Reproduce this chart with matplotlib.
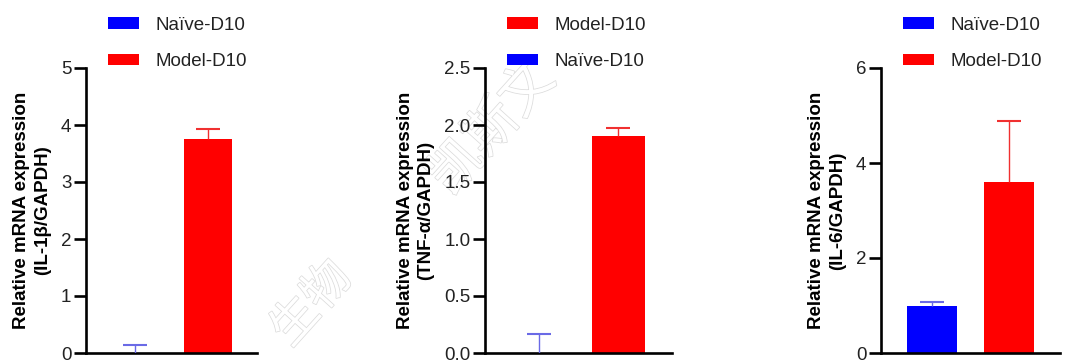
import matplotlib
matplotlib.use("Agg")
import matplotlib.pyplot as plt
import matplotlib.patheffects as pe
from matplotlib.patches import Patch

plt.rcParams['font.family'] = ['Liberation Sans', 'DejaVu Sans']

# ---- data ----
groups = ["Naïve-D10", "Model-D10"]
colors = {"Naïve-D10": "#0000FF", "Model-D10": "#FF0000"}
err_colors = {"Naïve-D10": "#6A6AE6", "Model-D10": "#F03030"}

il1b_means = [0.0, 3.75]
il1b_err = [0.14, 0.18]

tnf_means = [0.0, 1.90]
tnf_err = [0.165, 0.07]

il6_means = [0.99, 3.61]
il6_err = [0.08, 1.28]

panels = [
    dict(means=il1b_means, err=il1b_err, ylim=(0, 5), yticks=[0, 1, 2, 3, 4, 5],
         yticklabels=["0", "1", "2", "3", "4", "5"],
         ylabel="Relative mRNA expression\n(IL-1β/GAPDH)",
         legend_order=["Naïve-D10", "Model-D10"],
         rect=[86, 171], leg_x=108),
    dict(means=tnf_means, err=tnf_err, ylim=(0, 2.5), yticks=[0, 0.5, 1.0, 1.5, 2.0, 2.5],
         yticklabels=["0.0", "0.5", "1.0", "1.5", "2.0", "2.5"],
         ylabel="Relative mRNA expression\n(TNF-α/GAPDH)",
         legend_order=["Model-D10", "Naïve-D10"],
         rect=[485, 187], leg_x=507),
    dict(means=il6_means, err=il6_err, ylim=(0, 6), yticks=[0, 2, 4, 6],
         yticklabels=["0", "2", "4", "6"],
         ylabel="Relative mRNA expression\n(IL-6/GAPDH)",
         legend_order=["Naïve-D10", "Model-D10"],
         rect=[881, 179], leg_x=903),
]

W, H = 1072, 364
fig = plt.figure(figsize=(W / 100, H / 100), dpi=100)

# watermark (faint outlined characters)
wm_kw = dict(rotation=48, ha="center", va="center",
             family=["Noto Sans CJK SC"], color="white", zorder=-1,
             path_effects=[pe.withStroke(linewidth=1.1, foreground="#dcdcdc")])
fig.text(492 / W, 1 - 128 / H, "凯斯文", fontsize=38, **wm_kw)
fig.text(312 / W, 1 - 304 / H, "生物", fontsize=34, **wm_kw)

fs = 13.5
for p in panels:
    left, width = p["rect"]
    ax = fig.add_axes([left / W, 11 / H, width / W, 285 / H])
    ax.patch.set_alpha(0)
    x = list(range(len(groups)))
    for i, g in enumerate(groups):
        ax.bar(x[i], p["means"][i], width=0.66, color=colors[g], zorder=2)
        eb = ax.errorbar(x[i], p["means"][i], yerr=[[0], [p["err"][i]]], fmt="none",
                         ecolor=err_colors[g], elinewidth=1.0, capsize=8.5,
                         capthick=1.5, zorder=3)
        caps = eb[1]
        if len(caps) == 2:
            caps[0].set_visible(False)
    ax.set_xlim(-0.67, 1.67)
    ax.set_ylim(*p["ylim"])
    ax.set_yticks(p["yticks"])
    ax.set_yticklabels(p["yticklabels"])
    ax.set_xticks([])
    for s in ["top", "right"]:
        ax.spines[s].set_visible(False)
    for s in ["left", "bottom"]:
        ax.spines[s].set_linewidth(1.9)
        ax.spines[s].set_color("black")
    ax.tick_params(axis="y", length=8.5, width=1.9, labelsize=fs, pad=2,
                   colors="black", labelcolor="#222222")
    ax.set_ylabel(p["ylabel"], fontsize=fs, fontweight="bold", labelpad=7,
                  linespacing=1.3)
    handles = [Patch(facecolor=colors[g], edgecolor="none") for g in p["legend_order"]]
    fig.legend(handles, p["legend_order"], loc="upper left",
               bbox_to_anchor=(p["leg_x"] / W, 1 - 17 / H),
               frameon=False, fontsize=fs, handlelength=1.65, handleheight=0.6,
               handletextpad=0.9, labelspacing=1.02, borderpad=0,
               borderaxespad=0, labelcolor="#222222")

fig.savefig("out.png", dpi=100)
